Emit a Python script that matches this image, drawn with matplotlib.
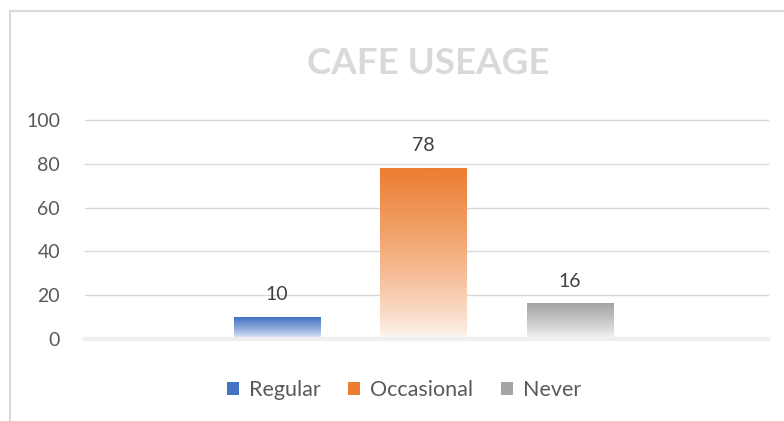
import numpy as np
import matplotlib
matplotlib.use("Agg")
import matplotlib.pyplot as plt
from matplotlib.colors import LinearSegmentedColormap
from matplotlib.patches import Patch
from matplotlib.lines import Line2D

# donnees
series = ["Regular", "Occasional", "Never"]
values = [10, 78, 16]
colors = ["#4472C4", "#ED7D31", "#A5A5A5"]
yticks = [0, 20, 40, 60, 80, 100]
title = "CAFE USEAGE"

plt.rcParams['font.family'] = ['Lato', 'DejaVu Sans']

fig = plt.figure(figsize=(7.84, 4.21), dpi=100)
ax = fig.add_axes([85 / 784, 82 / 421, 683 / 784, 219 / 421])

xpos = np.arange(len(series)) - 1
width = 0.59

# degrade du haut (couleur pleine) vers le bas (presque blanc)
s = np.linspace(0, 1, 256)
grad = (0.04 + 0.96 * s ** 0.75).reshape(-1, 1)
for x, v, c in zip(xpos, values, colors):
    cmap = LinearSegmentedColormap.from_list("g", ["#FFFFFF", c])
    ax.imshow(grad, extent=[x - width / 2, x + width / 2, 0, v], aspect='auto',
              cmap=cmap, vmin=0, vmax=1, origin='lower', zorder=2, interpolation='bilinear')
    ax.text(x, v + 6.5, str(v), ha='center', va='bottom', fontsize=14, color='#404040')

ax.set_xlim(-2.31, 2.35)
ax.set_ylim(0, 100)
for t in yticks[1:]:
    ax.axhline(t, color='#D9D9D9', lw=1, zorder=1, clip_on=False)
ax.axhline(0, color='#EFEFEF', lw=3, zorder=3, clip_on=False)

ax.set_yticks(yticks)
ax.set_yticklabels([str(t) for t in yticks], fontsize=14, color='#595959')
ax.tick_params(axis='y', length=0, pad=18)
ax.set_xticks([])
for sp in ax.spines.values():
    sp.set_visible(False)

fig.text(428 / 784, 1 - 63 / 421, title, ha='center', va='center', fontsize=26.5,
         fontweight='bold', color='#D9D9D9')

# bordure du graphique (gauche et haut)
fig.add_artist(Line2D([10 / 784, 10 / 784], [0, 1 - 10.5 / 421], transform=fig.transFigure,
                      color='#D9D9D9', lw=1.5))
fig.add_artist(Line2D([10 / 784, 1], [1 - 10.5 / 421, 1 - 10.5 / 421], transform=fig.transFigure,
                      color='#D9D9D9', lw=1.5))

handles = [Patch(facecolor=c, edgecolor='none') for c in colors]
fig.legend(handles, series, loc='center', bbox_to_anchor=(404 / 784, 1 - 390 / 421), ncol=3,
           frameon=False, fontsize=15.5, handlelength=0.55, handleheight=0.55, handletextpad=0.45,
           columnspacing=1.3, labelcolor='#595959')

fig.savefig("out.png", dpi=100)
